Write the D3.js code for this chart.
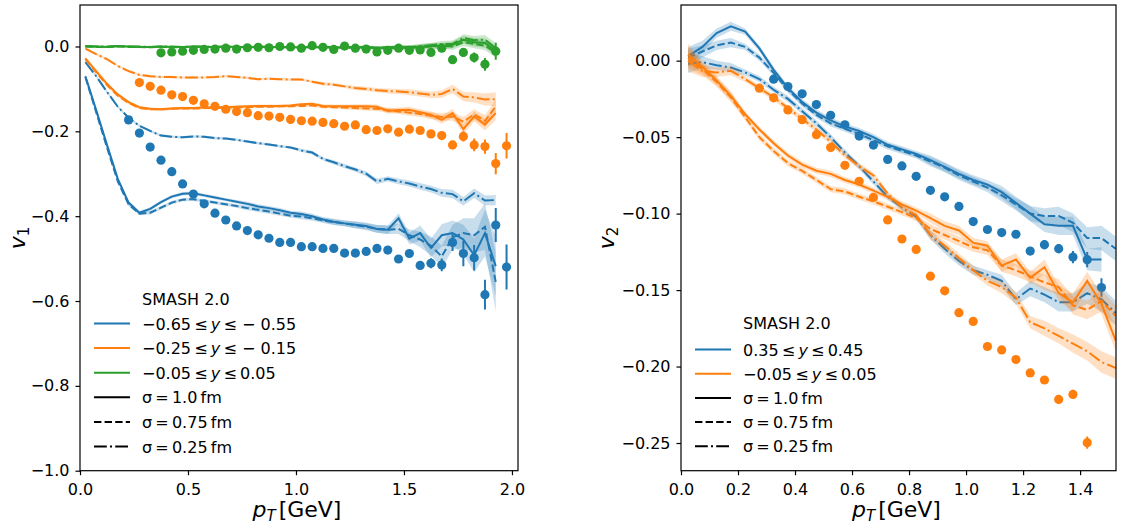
<!DOCTYPE html>
<meta charset="utf-8">
<style>
body { margin: 0; background: #fff; }
svg { display: block; font-family: "DejaVu Sans", sans-serif; }
</style>
<svg width="1121" height="525"></svg>
<script src="https://cdn.jsdelivr.net/npm/d3@7/dist/d3.min.js"></script>
<script>

// ---------- left panel: v1 ----------
var pTL = [0.025,0.075,0.125,0.175,0.225,0.275,0.325,0.375,0.425,0.475,0.525,0.575,0.625,0.675,0.725,0.775,0.825,0.875,0.925,0.975,
           1.025,1.075,1.125,1.175,1.225,1.275,1.325,1.375,1.425,1.475,1.525,1.575,1.625,1.675,1.725,1.775,1.825,1.875,1.925];

var v1BlueSolid = [-0.070,-0.150,-0.232,-0.312,-0.368,-0.392,-0.383,-0.367,-0.354,-0.347,-0.346,-0.351,-0.356,-0.361,-0.366,-0.371,-0.377,-0.381,-0.386,-0.392,
                   -0.395,-0.400,-0.408,-0.413,-0.417,-0.420,-0.423,-0.430,-0.432,-0.405,-0.453,-0.440,-0.475,-0.445,-0.440,-0.455,-0.492,-0.440,-0.518];
var v1BlueDashed = [-0.072,-0.155,-0.238,-0.318,-0.372,-0.394,-0.392,-0.380,-0.368,-0.361,-0.360,-0.364,-0.368,-0.372,-0.376,-0.381,-0.385,-0.389,-0.394,-0.399,
                    -0.401,-0.405,-0.410,-0.414,-0.417,-0.421,-0.425,-0.430,-0.432,-0.430,-0.445,-0.455,-0.470,-0.495,-0.450,-0.440,-0.445,-0.425,-0.555];
var v1BlueDashdot = [-0.037,-0.070,-0.107,-0.142,-0.168,-0.187,-0.199,-0.210,-0.213,-0.214,-0.212,-0.213,-0.216,-0.217,-0.220,-0.224,-0.228,-0.231,-0.235,-0.238,
                     -0.245,-0.250,-0.265,-0.273,-0.282,-0.290,-0.300,-0.318,-0.312,-0.318,-0.323,-0.330,-0.336,-0.345,-0.348,-0.365,-0.346,-0.363,-0.362];
var v1OrangeSolid = [-0.028,-0.058,-0.088,-0.113,-0.131,-0.143,-0.147,-0.148,-0.146,-0.145,-0.145,-0.144,-0.143,-0.143,-0.142,-0.141,-0.140,-0.140,-0.140,-0.139,
                     -0.136,-0.135,-0.140,-0.141,-0.141,-0.141,-0.141,-0.142,-0.152,-0.150,-0.149,-0.155,-0.161,-0.173,-0.157,-0.195,-0.165,-0.184,-0.157];
var v1OrangeDashed = [-0.030,-0.061,-0.091,-0.116,-0.133,-0.145,-0.148,-0.148,-0.147,-0.146,-0.146,-0.145,-0.145,-0.144,-0.144,-0.143,-0.142,-0.142,-0.141,-0.141,
                      -0.140,-0.139,-0.142,-0.143,-0.144,-0.145,-0.146,-0.147,-0.150,-0.153,-0.156,-0.159,-0.163,-0.166,-0.165,-0.177,-0.160,-0.176,-0.141];
var v1OrangeDashdot = [-0.005,-0.018,-0.030,-0.046,-0.058,-0.067,-0.070,-0.072,-0.072,-0.073,-0.073,-0.073,-0.072,-0.070,-0.072,-0.074,-0.077,-0.076,-0.077,-0.078,
                       -0.078,-0.083,-0.088,-0.090,-0.094,-0.098,-0.100,-0.103,-0.105,-0.106,-0.108,-0.111,-0.114,-0.112,-0.100,-0.118,-0.120,-0.125,-0.124];
var v1GreenSolid = [0.000,0.000,-0.001,0.001,0.000,-0.001,-0.001,0.000,-0.001,-0.001,0.000,-0.001,-0.001,0.000,-0.001,-0.002,-0.001,-0.001,-0.002,-0.002,
                    -0.002,-0.001,-0.002,-0.002,-0.003,-0.002,-0.002,-0.003,-0.004,-0.002,-0.003,-0.001,0.002,0.000,0.004,0.016,0.010,0.008,-0.010];
var v1GreenDashed = [0.000,-0.001,-0.001,0.000,-0.001,-0.001,-0.002,-0.001,-0.001,-0.002,-0.001,-0.001,-0.002,-0.001,-0.002,-0.002,-0.002,-0.001,-0.002,-0.003,
                     -0.002,-0.002,-0.003,-0.002,-0.003,-0.003,-0.002,-0.004,-0.003,-0.004,-0.002,-0.002,0.000,0.002,0.000,0.010,0.006,0.002,-0.014];
var v1GreenDashdot = [0.001,0.000,0.000,0.001,0.000,0.000,-0.001,0.000,0.000,-0.001,0.000,0.000,-0.001,0.000,-0.001,-0.001,0.000,-0.001,-0.001,-0.001,
                      -0.002,-0.001,-0.001,-0.002,-0.002,-0.001,-0.002,-0.003,-0.002,-0.001,-0.002,0.000,0.003,0.006,0.006,0.020,0.015,0.016,-0.004];

// band half-widths (statistical error of the model)
var errL_blue = [0.004,0.004,0.004,0.004,0.004,0.004,0.004,0.004,0.004,0.004,0.004,0.004,0.004,0.004,0.004,0.005,0.005,0.005,0.005,0.005,
                 0.006,0.006,0.006,0.007,0.007,0.008,0.008,0.009,0.010,0.012,0.014,0.018,0.022,0.026,0.030,0.035,0.040,0.055,0.070];
var errL_blueDD = [0.003,0.003,0.003,0.003,0.003,0.003,0.003,0.003,0.003,0.003,0.003,0.003,0.003,0.003,0.003,0.003,0.003,0.003,0.003,0.003,
                   0.004,0.004,0.004,0.005,0.005,0.005,0.006,0.006,0.006,0.007,0.007,0.008,0.008,0.009,0.010,0.010,0.011,0.012,0.012];
var errL_orange = [0.003,0.003,0.003,0.003,0.003,0.003,0.003,0.003,0.003,0.003,0.003,0.003,0.003,0.003,0.003,0.003,0.003,0.003,0.003,0.003,
                   0.003,0.003,0.004,0.004,0.004,0.005,0.005,0.005,0.006,0.006,0.007,0.007,0.008,0.009,0.010,0.011,0.012,0.014,0.016];
var errL_green = [0.002,0.002,0.002,0.002,0.002,0.002,0.002,0.002,0.002,0.002,0.002,0.002,0.002,0.002,0.002,0.002,0.002,0.002,0.002,0.002,
                  0.002,0.002,0.003,0.003,0.003,0.003,0.004,0.004,0.004,0.005,0.005,0.006,0.006,0.007,0.008,0.009,0.010,0.011,0.012];

// measured points
var pTdataL = [0.225,0.275,0.325,0.375,0.425,0.475,0.525,0.575,0.625,0.675,0.725,0.775,0.825,0.875,0.925,0.975,1.025,1.075,
               1.125,1.175,1.225,1.275,1.325,1.375,1.425,1.475,1.525,1.575,1.625,1.675,1.725,1.775,1.825,1.875,1.925,1.975];
var v1DataBlue = [-0.173,-0.204,-0.237,-0.268,-0.295,-0.324,-0.348,-0.371,-0.393,-0.409,-0.423,-0.434,-0.444,-0.452,-0.462,-0.462,-0.472,-0.472,
                  -0.476,-0.476,-0.487,-0.487,-0.483,-0.476,-0.480,-0.501,-0.488,-0.516,-0.511,-0.515,-0.462,-0.488,-0.498,-0.585,-0.421,-0.520];
var v1DataBlueErr = [0.003,0.003,0.003,0.003,0.003,0.003,0.003,0.003,0.003,0.003,0.003,0.003,0.003,0.003,0.003,0.003,0.003,0.003,
                     0.003,0.003,0.003,0.003,0.003,0.003,0.003,0.003,0.003,0.010,0.012,0.015,0.020,0.030,0.030,0.035,0.040,0.053];
var v1DataOrange = [-0.085,-0.094,-0.103,-0.114,-0.118,-0.127,-0.135,-0.141,-0.148,-0.153,-0.156,-0.163,-0.164,-0.167,-0.172,-0.175,-0.176,
                    -0.179,-0.182,-0.188,-0.185,-0.196,-0.198,-0.194,-0.202,-0.195,-0.198,-0.206,-0.210,-0.232,-0.212,-0.232,-0.236,-0.276,-0.234];
var v1DataOrangeErr = [0.003,0.003,0.003,0.003,0.003,0.003,0.003,0.003,0.003,0.003,0.003,0.003,0.003,0.003,0.003,0.003,0.003,
                       0.003,0.003,0.003,0.003,0.003,0.003,0.003,0.003,0.003,0.003,0.003,0.003,0.010,0.012,0.015,0.017,0.025,0.030];
var v1DataGreen = [-0.015,-0.013,-0.011,-0.009,-0.007,-0.006,-0.004,-0.006,-0.003,-0.002,-0.003,0.000,-0.001,-0.004,0.002,-0.002,
                   -0.007,0.001,-0.004,-0.006,-0.013,-0.009,-0.004,-0.009,-0.008,-0.014,-0.004,-0.031,-0.014,-0.026,-0.042,-0.011];
var v1DataGreenErr = [0.003,0.003,0.003,0.003,0.003,0.003,0.003,0.003,0.003,0.003,0.003,0.003,0.003,0.003,0.003,0.003,
                      0.003,0.003,0.003,0.003,0.003,0.003,0.003,0.003,0.003,0.005,0.006,0.008,0.010,0.012,0.015,0.020];

// ---------- right panel: v2 ----------
var pTR = [0.025,0.075,0.125,0.175,0.225,0.275,0.325,0.375,0.425,0.475,0.525,0.575,0.625,0.675,0.725,0.775,0.825,0.875,0.925,0.975,
           1.025,1.075,1.125,1.175,1.225,1.275,1.325,1.375,1.425,1.475,1.525];

var v2BlueSolid = [0.003,0.009,0.018,0.0225,0.019,0.008,-0.006,-0.018,-0.027,-0.034,-0.039,-0.043,-0.046,-0.050,-0.055,-0.058,-0.061,-0.065,-0.0695,-0.074,
                   -0.078,-0.081,-0.086,-0.093,-0.100,-0.107,-0.108,-0.108,-0.130,-0.130];
var v2BlueDashed = [0.002,0.006,0.010,0.0118,0.009,0.002,-0.008,-0.019,-0.028,-0.0355,-0.041,-0.0445,-0.048,-0.052,-0.056,-0.059,-0.062,-0.066,-0.070,-0.075,
                    -0.079,-0.083,-0.088,-0.094,-0.100,-0.1015,-0.1015,-0.106,-0.116,-0.116,-0.123];
var v2BlueDashdot = [-0.002,-0.001,-0.003,-0.0045,-0.0077,-0.012,-0.019,-0.025,-0.033,-0.041,-0.050,-0.060,-0.069,-0.079,-0.089,-0.096,-0.102,-0.114,-0.123,-0.131,
                     -0.137,-0.140,-0.144,-0.156,-0.149,-0.153,-0.158,-0.158,-0.152,-0.156,-0.165];
var v2OrangeSolid = [0.004,-0.004,-0.013,-0.023,-0.035,-0.045,-0.054,-0.062,-0.068,-0.072,-0.074,-0.078,-0.081,-0.085,-0.089,-0.094,-0.098,-0.103,-0.108,-0.111,
                     -0.119,-0.121,-0.134,-0.130,-0.142,-0.135,-0.152,-0.158,-0.144,-0.159,-0.183];
var v2OrangeDashed = [0.002,-0.0055,-0.014,-0.024,-0.037,-0.050,-0.059,-0.067,-0.072,-0.078,-0.084,-0.0855,-0.089,-0.092,-0.0955,-0.099,-0.103,-0.110,-0.114,-0.118,
                      -0.122,-0.124,-0.134,-0.137,-0.141,-0.145,-0.148,-0.160,-0.163,-0.157,-0.167];
var v2OrangeDashdot = [0.000,-0.0066,-0.0077,-0.0066,-0.012,-0.018,-0.024,-0.031,-0.038,-0.045,-0.053,-0.062,-0.069,-0.075,-0.087,-0.096,-0.101,-0.114,-0.121,-0.129,
                       -0.137,-0.144,-0.148,-0.155,-0.171,-0.175,-0.180,-0.185,-0.190,-0.197,-0.201];

var errR_blue = [0.006,0.004,0.003,0.003,0.002,0.002,0.002,0.002,0.002,0.002,0.002,0.002,0.002,0.002,0.002,0.002,0.002,0.003,0.003,0.003,
                 0.003,0.003,0.004,0.004,0.005,0.005,0.006,0.006,0.007,0.008,0.008];
var errR_orange = [0.007,0.004,0.003,0.003,0.002,0.002,0.002,0.002,0.002,0.002,0.002,0.002,0.002,0.002,0.002,0.002,0.002,0.003,0.003,0.003,
                   0.003,0.003,0.004,0.004,0.004,0.005,0.005,0.006,0.006,0.007,0.007];

var pTdataR = [0.275,0.325,0.375,0.425,0.475,0.525,0.575,0.625,0.675,0.725,0.775,0.825,0.875,0.925,0.975,1.025,1.075,1.125,
               1.175,1.225,1.275,1.325,1.375,1.425,1.475];
var v2DataBlue = [-0.0121,-0.0169,-0.0217,-0.0287,-0.0357,-0.0419,-0.0493,-0.0552,-0.0646,-0.0688,-0.0756,-0.0848,-0.0890,-0.0953,
                  -0.1052,-0.1104,-0.1124,-0.1135,-0.1245,-0.1203,-0.1229,-0.1284,-0.1301,-0.1483];
var v2DataBlueErr = [0.001,0.001,0.001,0.001,0.001,0.001,0.001,0.001,0.001,0.001,0.001,0.001,0.001,0.001,
                     0.001,0.001,0.001,0.001,0.002,0.003,0.003,0.004,0.005,0.006];
var v2DataOrange = [-0.0180,-0.0243,-0.0322,-0.0386,-0.0484,-0.0568,-0.0684,-0.0789,-0.0894,-0.1041,-0.1166,-0.1234,-0.1409,-0.1505,
                    -0.1648,-0.1705,-0.1869,-0.1891,-0.1954,-0.2042,-0.2088,-0.2215,-0.2182,-0.2498];
var v2DataOrangeErr = [0.001,0.001,0.001,0.001,0.001,0.001,0.001,0.001,0.001,0.001,0.001,0.001,0.001,0.001,
                       0.001,0.001,0.001,0.001,0.001,0.001,0.001,0.002,0.003,0.004];

// ---------- styling ----------
var blue = "#1f77b4", orange = "#ff7f0e", green = "#2ca02c";
var dashes = { solid: null, dashed: "7.4,3.2", dashdot: "12.8,3.2,2,3.2" };
var thin = "\u2009";

function zip(xs, ys, es) {
  return ys.map(function(v, i) { return { x: xs[i], y: v, e: es ? es[i] : 0 }; });
}

var svg = d3.select("svg");

function drawPanel(cfg) {
  var x = d3.scaleLinear().domain(cfg.xDomain).range([cfg.left, cfg.right]);
  var y = d3.scaleLinear().domain(cfg.yDomain).range([cfg.bottom, cfg.top]);

  svg.append("clipPath").attr("id", cfg.id)
    .append("rect")
      .attr("x", cfg.left).attr("y", cfg.top)
      .attr("width", cfg.right - cfg.left).attr("height", cfg.bottom - cfg.top);

  var plot = svg.append("g").attr("clip-path", "url(#" + cfg.id + ")");

  var area = d3.area()
      .x(function(d) { return x(d.x); })
      .y0(function(d) { return y(d.y - d.e); })
      .y1(function(d) { return y(d.y + d.e); });
  var line = d3.line()
      .x(function(d) { return x(d.x); })
      .y(function(d) { return y(d.y); });

  cfg.groups.forEach(function(grp) {
    grp.curves.forEach(function(c) {
      plot.append("path")
        .datum(zip(cfg.pT, c.v, c.err))
        .attr("d", area)
        .attr("fill", grp.color)
        .attr("fill-opacity", 0.24)
        .attr("stroke", "none");
    });
    grp.curves.forEach(function(c) {
      plot.append("path")
        .datum(zip(cfg.pT, c.v))
        .attr("d", line)
        .attr("fill", "none")
        .attr("stroke", grp.color)
        .attr("stroke-width", 2)
        .attr("stroke-dasharray", dashes[c.style]);
    });
    var pts = zip(grp.dataX, grp.data, grp.dataErr);
    plot.append("g").selectAll("line")
      .data(pts)
      .enter().append("line")
        .attr("x1", function(d) { return x(d.x); })
        .attr("x2", function(d) { return x(d.x); })
        .attr("y1", function(d) { return y(d.y - d.e); })
        .attr("y2", function(d) { return y(d.y + d.e); })
        .attr("stroke", grp.color)
        .attr("stroke-width", 2);
    plot.append("g").selectAll("circle")
      .data(pts)
      .enter().append("circle")
        .attr("cx", function(d) { return x(d.x); })
        .attr("cy", function(d) { return y(d.y); })
        .attr("r", 4.6)
        .attr("fill", grp.color);
  });

  // frame
  svg.append("rect")
    .attr("x", cfg.left).attr("y", cfg.top)
    .attr("width", cfg.right - cfg.left).attr("height", cfg.bottom - cfg.top)
    .attr("fill", "none").attr("stroke", "#000").attr("stroke-width", 1.2);

  var xAxis = svg.append("g")
      .attr("transform", "translate(0," + cfg.bottom + ")")
      .call(d3.axisBottom(x).tickValues(cfg.xTicks).tickFormat(d3.format(".1f"))
            .tickSize(4.5).tickPadding(8));
  var yAxis = svg.append("g")
      .attr("transform", "translate(" + cfg.left + ",0)")
      .call(d3.axisLeft(y).tickValues(cfg.yTicks).tickFormat(cfg.yFormat)
            .tickSize(4.5).tickPadding(6));
  [xAxis, yAxis].forEach(function(a) {
    a.select(".domain").remove();
    a.attr("font-family", null).attr("font-size", null);
    a.selectAll(".tick line").attr("stroke", "#000").attr("stroke-width", 1.2);
    a.selectAll(".tick text").attr("fill", "#000").style("font-size", "16px");
  });

  // axis labels
  var xl = svg.append("text")
      .attr("x", (cfg.left + cfg.right) / 2 - 2)
      .attr("y", 517)
      .attr("text-anchor", "middle")
      .style("font-size", "22px");
  xl.append("tspan").attr("font-style", "italic").text("p");
  xl.append("tspan").attr("font-style", "italic").attr("font-size", "15px").attr("dy", 4).text("T");
  xl.append("tspan").attr("dy", -4).attr("dx", 3).text("[GeV]");

  var yl = svg.append("text")
      .attr("transform", "translate(" + cfg.yLabelX + ",238) rotate(-90)")
      .attr("text-anchor", "middle")
      .style("font-size", "22px");
  yl.append("tspan").attr("font-style", "italic").text("v");
  yl.append("tspan").attr("font-size", "15px").attr("dy", 4).text(cfg.yLabelSub);

  // legend
  var lg = svg.append("g").style("font-size", "16px");
  lg.append("text")
    .attr("x", cfg.legX + 48).attr("y", cfg.legTitleY)
    .attr("dominant-baseline", "central")
    .text("SMASH 2.0");
  cfg.legend.forEach(function(item, i) {
    var yy = cfg.legRowY + i * cfg.legStep;
    lg.append("line")
      .attr("x1", cfg.legX).attr("x2", cfg.legX + 36)
      .attr("y1", yy).attr("y2", yy)
      .attr("stroke", item.color)
      .attr("stroke-width", 2)
      .attr("stroke-dasharray", dashes[item.style]);
    var t = lg.append("text")
      .attr("x", cfg.legX + 48).attr("y", yy)
      .attr("dominant-baseline", "central");
    item.parts.forEach(function(p) {
      t.append("tspan").attr("font-style", p.it ? "italic" : null).text(p.s);
    });
  });
}

function rapidityLabel(lo, hi) {
  return [{ s: lo + thin + "≤" + thin }, { s: "y", it: true }, { s: thin + "≤" + hi }];
}

var sigmaLegend = [
  { color: "#000", style: "solid",   parts: [{ s: "σ" + thin + "=" + thin + "1.0" + thin + "fm" }] },
  { color: "#000", style: "dashed",  parts: [{ s: "σ" + thin + "=" + thin + "0.75" + thin + "fm" }] },
  { color: "#000", style: "dashdot", parts: [{ s: "σ" + thin + "=" + thin + "0.25" + thin + "fm" }] }
];

drawPanel({
  id: "clipL",
  left: 80, right: 518, top: 5, bottom: 470.7,
  xDomain: [0, 2.028], yDomain: [-1.0, 0.0978],
  xTicks: [0, 0.5, 1.0, 1.5, 2.0],
  yTicks: [0, -0.2, -0.4, -0.6, -0.8, -1.0],
  yFormat: d3.format(".1f"),
  yLabelX: 25, yLabelSub: "1",
  pT: pTL,
  groups: [
    { color: blue, dataX: pTdataL, data: v1DataBlue, dataErr: v1DataBlueErr,
      curves: [ { v: v1BlueSolid, err: errL_blue, style: "solid" },
                { v: v1BlueDashed, err: errL_blue, style: "dashed" },
                { v: v1BlueDashdot, err: errL_blueDD, style: "dashdot" } ] },
    { color: orange, dataX: pTdataL.slice(1), data: v1DataOrange, dataErr: v1DataOrangeErr,
      curves: [ { v: v1OrangeSolid, err: errL_orange, style: "solid" },
                { v: v1OrangeDashed, err: errL_orange, style: "dashed" },
                { v: v1OrangeDashdot, err: errL_orange, style: "dashdot" } ] },
    { color: green, dataX: pTdataL.slice(3), data: v1DataGreen, dataErr: v1DataGreenErr,
      curves: [ { v: v1GreenSolid, err: errL_green, style: "solid" },
                { v: v1GreenDashed, err: errL_green, style: "dashed" },
                { v: v1GreenDashdot, err: errL_green, style: "dashdot" } ] }
  ],
  legX: 94, legTitleY: 299.5, legRowY: 323.5, legStep: 24.6,
  legend: [
    { color: blue,   style: "solid", parts: rapidityLabel("−0.65", " − 0.55") },
    { color: orange, style: "solid", parts: rapidityLabel("−0.25", " − 0.15") },
    { color: green,  style: "solid", parts: rapidityLabel("−0.05", thin + "0.05") }
  ].concat(sigmaLegend)
});

drawPanel({
  id: "clipR",
  left: 681, right: 1116, top: 5, bottom: 470.7,
  xDomain: [0, 1.526], yDomain: [-0.2681, 0.0364],
  xTicks: [0, 0.2, 0.4, 0.6, 0.8, 1.0, 1.2, 1.4],
  yTicks: [0, -0.05, -0.10, -0.15, -0.20, -0.25],
  yFormat: d3.format(".2f"),
  yLabelX: 614, yLabelSub: "2",
  pT: pTR,
  groups: [
    { color: blue, dataX: pTdataR.slice(1), data: v2DataBlue, dataErr: v2DataBlueErr,
      curves: [ { v: v2BlueSolid, err: errR_blue, style: "solid" },
                { v: v2BlueDashed, err: errR_blue, style: "dashed" },
                { v: v2BlueDashdot, err: errR_blue, style: "dashdot" } ] },
    { color: orange, dataX: pTdataR.slice(0, 24), data: v2DataOrange, dataErr: v2DataOrangeErr,
      curves: [ { v: v2OrangeSolid, err: errR_orange, style: "solid" },
                { v: v2OrangeDashed, err: errR_orange, style: "dashed" },
                { v: v2OrangeDashdot, err: errR_orange, style: "dashdot" } ] }
  ],
  legX: 695, legTitleY: 323.3, legRowY: 349.5, legStep: 24.2,
  legend: [
    { color: blue,   style: "solid", parts: rapidityLabel("0.35", thin + "0.45") },
    { color: orange, style: "solid", parts: rapidityLabel("−0.05", thin + "0.05") }
  ].concat(sigmaLegend)
});

</script>
